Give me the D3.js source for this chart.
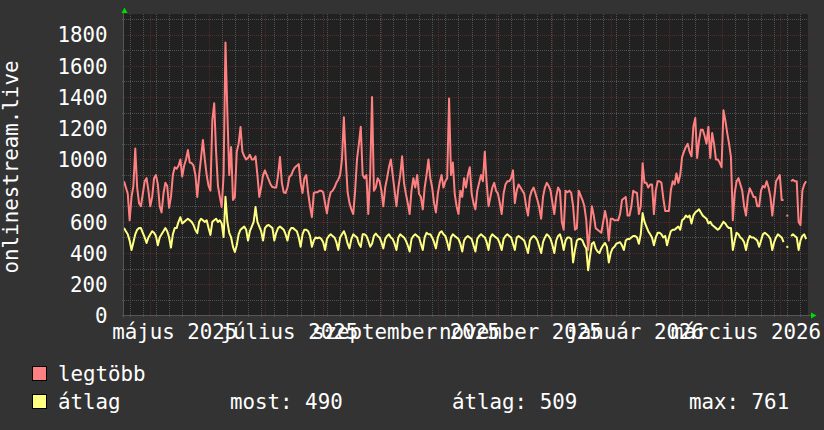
<!DOCTYPE html>
<html>
<head>
<meta charset="utf-8">
<script src="https://cdn.jsdelivr.net/npm/d3@7/dist/d3.min.js"></script>
<style>
  body { margin: 0; background: #333333; }
  svg { display: block; }
  text { font-family: "DejaVu Sans Mono", monospace; fill: #ffffff; }
</style>
</head>
<body>
<svg id="chart"></svg>
<script>
// daily samples, first one is 2025-04-17
var firstDay = new Date(Date.UTC(2025, 3, 17))
var lastDay = new Date(Date.UTC(2026, 3, 16))

var legtobb = [
  860,820,780,610,760,830,1070,820,720,700,780,860,880,800,
  700,760,880,900,840,700,660,780,850,830,690,760,900,950,
  940,960,1000,890,960,1000,1060,980,977,960,900,760,900,1010,
  1125,1000,900,830,800,1250,1360,1050,830,760,695,900,1750,1300,
  900,1080,740,760,1050,1100,1208,1050,1020,1000,1010,1030,1000,1000,
  1020,900,760,820,900,930,900,870,840,823,820,820,900,1015,
  850,790,785,820,888,900,930,950,960,970,850,785,880,900,
  785,700,630,785,790,790,800,800,790,720,655,740,790,800,
  820,850,870,900,1000,1270,1000,790,720,680,650,800,1000,1100,
  1210,900,880,900,650,900,1400,800,820,880,860,800,700,820,
  880,950,1000,900,800,700,820,900,1020,850,780,720,650,800,
  880,820,900,780,760,680,820,900,1000,880,820,720,660,780,
  850,900,820,860,880,1390,900,980,780,700,650,800,760,880,
  820,900,950,780,720,680,800,850,900,860,1050,850,700,760,
  820,850,800,780,720,650,780,840,860,860,880,930,720,800,
  840,820,800,780,700,640,760,800,820,780,740,690,620,760,
  820,850,830,800,720,650,760,820,800,600,550,800,790,800,
  785,700,550,560,800,770,740,700,610,420,560,700,640,560,
  550,540,530,600,670,610,480,620,620,610,610,610,650,740,
  750,760,640,640,700,800,790,785,650,700,975,850,850,820,
  840,840,650,800,860,860,850,750,670,670,670,800,860,840,
  910,850,900,1015,1050,1080,1100,1050,1020,1210,1265,1010,1120,1190,
  1190,1150,1100,1210,1010,1170,1100,1000,1000,980,950,1315,1250,1170,
  1100,1015,610,785,860,880,840,800,700,640,760,815,790,760,
  760,700,700,800,830,820,860,820,760,640,750,860,880,900,
  740,740,null,640,null,860,870,860,860,600,580,800,840,860
]

var atlag = [
  560,540,520,480,420,470,520,550,560,560,530,500,465,500,
  520,540,530,510,450,500,520,540,560,540,500,435,520,560,
  560,600,630,590,600,610,620,610,600,580,548,528,600,620,
  610,600,610,560,516,600,610,620,600,610,590,503,761,600,
  530,500,440,407,450,520,550,560,570,550,480,540,570,600,
  695,600,570,540,480,560,575,580,570,560,480,530,560,570,
  560,550,520,480,540,560,560,550,540,500,440,520,550,550,
  540,510,440,480,500,495,500,490,470,420,490,510,520,510,
  500,470,420,500,520,540,510,460,430,490,520,510,500,460,
  440,520,520,510,480,440,460,510,525,510,500,470,430,490,
  510,520,500,490,460,420,500,520,510,500,480,450,410,490,
  510,520,510,500,460,420,500,530,520,520,500,470,430,500,
  530,540,520,510,470,420,500,520,510,500,490,460,410,480,
  500,510,500,490,450,410,490,510,520,510,500,470,420,500,
  520,510,500,490,460,420,490,510,520,510,500,460,420,500,
  510,500,490,480,440,400,480,500,510,500,480,440,400,470,
  500,520,510,490,450,400,480,510,520,480,420,480,500,500,
  490,340,420,480,490,490,480,450,430,290,380,460,470,430,
  410,400,430,450,465,440,340,400,430,440,460,465,470,450,
  420,480,490,490,500,510,510,500,460,520,656,600,570,540,
  520,500,450,500,530,530,520,500,510,450,500,540,550,550,
  560,570,550,610,620,640,630,640,590,640,660,670,680,660,
  640,630,620,590,600,580,570,560,550,560,580,600,590,570,
  560,560,420,480,530,520,500,490,470,420,480,510,500,500,
  490,480,440,480,520,530,520,510,490,420,470,500,520,510,
  500,470,null,440,null,510,520,510,500,420,480,510,520,490
]

var yTicks = [0, 200, 400, 600, 800, 1000, 1200, 1400, 1600, 1800]
var yMinor = [100, 300, 500, 700, 900, 1100, 1300, 1500, 1700, 1900]
var monthNames = ["január", "február", "március", "április", "május", "június",
                  "július", "augusztus", "szeptember", "október", "november", "december"]
var seriesNames = ["legtöbb", "átlag"]
var seriesColors = ["#ff8080", "#ffff80"]
var atlagStats = ["most: 490", "átlag: 509", "max: 761"]
var yTitle = "onlinestream.live"

var width = 824, height = 430
var plotLeft = 124, plotRight = 808, plotTop = 14, plotBottom = 315.5

var svg = d3.select("#chart").attr("width", width).attr("height", height)
svg.append("rect").attr("width", width).attr("height", height).attr("fill", "#333333")
svg.append("rect")
    .attr("x", plotLeft).attr("y", plotTop)
    .attr("width", plotRight - plotLeft).attr("height", plotBottom - plotTop)
    .attr("fill", "#212121")

var x = d3.scaleUtc().domain([firstDay, lastDay]).range([plotLeft, plotRight])
var y = d3.scaleLinear().domain([0, 1932]).range([plotBottom, plotTop])

// dotted grid: pixel patterns, one on one off
var defs = svg.append("defs")
function dotPattern(id, color, vertical) {
    var p = defs.append("pattern").attr("id", id).attr("patternUnits", "userSpaceOnUse")
        .attr("width", vertical ? 1 : 2).attr("height", vertical ? 2 : 1)
    p.append("rect").attr("width", 1).attr("height", 1).attr("fill", color)
}
var minorColor = "#505050", majorColor = "#582828"
dotPattern("vMinor", minorColor, true)
dotPattern("hMinor", minorColor, false)
dotPattern("vMajor", majorColor, true)
dotPattern("hMajor", majorColor, false)

var grid = svg.append("g").attr("shape-rendering", "crispEdges")
function vLine(t, pat, extra) {
    grid.append("rect").attr("x", Math.round(x(t))).attr("y", plotTop)
        .attr("width", 1).attr("height", plotBottom - plotTop + extra)
        .attr("fill", "url(#" + pat + ")")
}
function hLine(v, pat, extra) {
    grid.append("rect").attr("x", plotLeft - extra).attr("y", Math.round(y(v)))
        .attr("width", plotRight - plotLeft + extra).attr("height", 1)
        .attr("fill", "url(#" + pat + ")")
}
d3.utcSunday.range(firstDay, lastDay).forEach(function(t) { vLine(t, "vMinor", 2) })
yMinor.forEach(function(v) { hLine(v, "hMinor", 2) })
var months = d3.utcMonth.range(firstDay, lastDay)
months.forEach(function(t) { vLine(t, "vMajor", 3) })
yTicks.slice(1).forEach(function(v) { hLine(v, "hMajor", 3) })

// axes
svg.append("line").attr("x1", plotLeft - 2).attr("x2", plotRight + 3)
    .attr("y1", 315.5).attr("y2", 315.5).attr("stroke", "#555555")
svg.append("line").attr("x1", plotLeft - 0.5).attr("x2", plotLeft - 0.5)
    .attr("y1", plotTop - 1).attr("y2", plotBottom + 2).attr("stroke", "#555555")
svg.append("path").attr("d", "M121.5,13 L127.5,13 L124.5,7.5 Z").attr("fill", "#00dd00")
svg.append("path").attr("d", "M811,312.5 L811,318.5 L816.5,315.5 Z").attr("fill", "#00dd00")

// tick labels
yTicks.forEach(function(v) {
    svg.append("text").attr("x", 107.5).attr("y", y(v) + 7.8)
        .attr("text-anchor", "end").attr("font-size", "20.8px").text(v)
})
months.filter(function(m) { return m.getUTCMonth() % 2 === 0 }).forEach(function(m) {
    svg.append("text").attr("x", x(d3.utcDay.offset(m, 13))).attr("y", 338.5)
        .attr("text-anchor", "middle").attr("font-size", "20.8px")
        .text(monthNames[m.getUTCMonth()] + " " + m.getUTCFullYear())
})
svg.append("text").attr("transform", "translate(17.5,167) rotate(-90)")
    .attr("text-anchor", "middle").attr("font-size", "20.8px").text(yTitle)

// series
var days = legtobb.map(function(d, i) { return d3.utcDay.offset(firstDay, i) })
var clip = svg.append("clipPath").attr("id", "plotclip")
clip.append("rect").attr("x", plotLeft).attr("y", plotTop)
    .attr("width", plotRight - plotLeft).attr("height", plotBottom - plotTop)

var line = d3.line()
    .defined(function(d) { return d[1] != null })
    .x(function(d) { return x(d[0]) })
    .y(function(d) { return y(d[1]) })

;[legtobb, atlag].forEach(function(values, k) {
    var pts = values.map(function(v, i) { return [days[i], v] })
    svg.append("path").attr("clip-path", "url(#plotclip)")
        .attr("d", line(pts))
        .attr("fill", "none").attr("stroke", seriesColors[k])
        .attr("stroke-width", 2).attr("stroke-linejoin", "round")
    // lone samples between gaps
    pts.forEach(function(p, i) {
        if (p[1] != null && (i === 0 || values[i - 1] == null) && (i === values.length - 1 || values[i + 1] == null)) {
            svg.append("rect").attr("x", x(p[0]) - 1).attr("y", y(p[1]) - 1)
                .attr("width", 2).attr("height", 2).attr("fill", seriesColors[k])
        }
    })
})

// legend
function legendText(str, px, py) {
    svg.append("text").attr("x", px).attr("y", py).attr("font-size", "20.8px").text(str)
}
seriesNames.forEach(function(name, k) {
    var top = 366 + k * 28
    svg.append("rect").attr("x", 32.5).attr("y", top + 0.5).attr("width", 14).attr("height", 14)
        .attr("fill", seriesColors[k]).attr("stroke", "#000000")
    legendText(name, 58, top + 15)
})
legendText(atlagStats[0], 230, 366 + 28 + 15)
legendText(atlagStats[1], 452, 366 + 28 + 15)
legendText(atlagStats[2], 689, 366 + 28 + 15)
</script>
</body>
</html>
